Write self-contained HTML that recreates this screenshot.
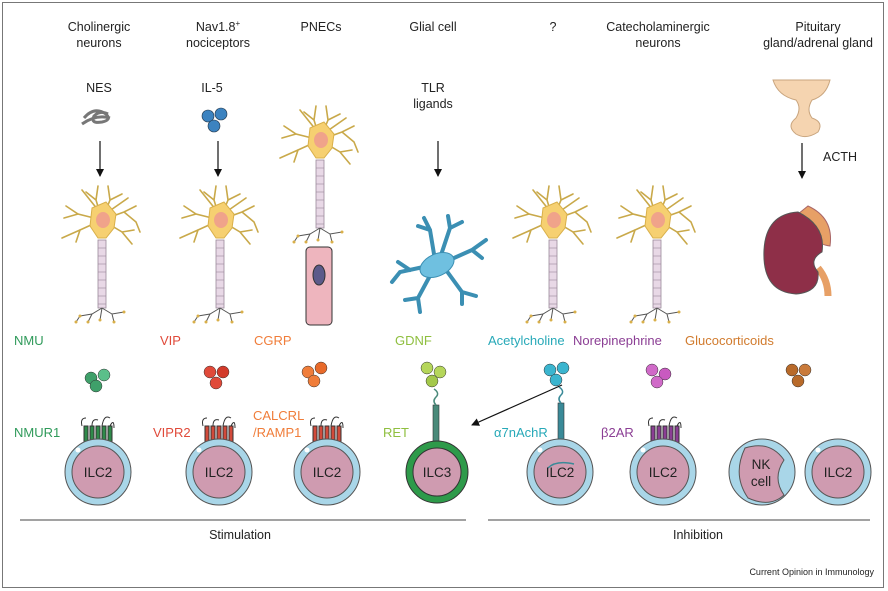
<!DOCTYPE html>
<html><head><meta charset="utf-8"><style>
html,body{margin:0;padding:0;background:#fff;}
svg{display:block;font-family:"Liberation Sans",Arial,sans-serif;}
</style></head><body>
<svg width="888" height="591" viewBox="0 0 888 591" xmlns="http://www.w3.org/2000/svg">
<defs>
<g id="neuron">
  <g stroke="#c9a94a" stroke-width="1.6" fill="none" stroke-linecap="round">
    <path d="M0 0 L-6 -20 L-4 -34 M-6 -20 L-16 -28"/>
    <path d="M0 0 L8 -20 L6 -34 M8 -20 L20 -26"/>
    <path d="M0 0 L22 -8 L34 -14 M22 -8 L34 2 L38 12"/>
    <path d="M0 0 L-24 -6 L-36 -14 M-24 -6 L-38 -2"/>
    <path d="M0 0 L-22 10 L-40 18 M-22 10 L-26 22"/>
    <path d="M0 0 L20 12 L30 24 M20 12 L32 10"/>
    <path d="M-4 -10 L-20 -30 M6 -8 L26 -22"/>
  </g>
  <path d="M-10 -12 L4 -18 L14 -6 L12 8 L4 18 L-4 18 L-12 6 Z" fill="#f6d071" stroke="#d9b04a" stroke-width="1"/>
  <ellipse cx="1" cy="0" rx="7" ry="8" fill="#f0a38a"/>
  <rect x="-4" y="20" width="8" height="68" fill="#e8d8e6" stroke="#9a8a9a" stroke-width="0.8"/>
  <g stroke="#9a8a9a" stroke-width="0.6">
    <line x1="-4" y1="28" x2="4" y2="28"/><line x1="-4" y1="36" x2="4" y2="36"/><line x1="-4" y1="44" x2="4" y2="44"/>
    <line x1="-4" y1="52" x2="4" y2="52"/><line x1="-4" y1="60" x2="4" y2="60"/><line x1="-4" y1="68" x2="4" y2="68"/>
    <line x1="-4" y1="76" x2="4" y2="76"/><line x1="-4" y1="84" x2="4" y2="84"/>
  </g>
  <g stroke="#555" stroke-width="1" fill="none">
    <path d="M0 88 L-10 94 L-22 96 M-10 94 L-14 102 M0 88 L-2 100 M0 88 L10 94 L22 92 M10 94 L12 102 M-22 96 L-26 102"/>
  </g>
  <g fill="#d9b04a"><circle cx="-22" cy="96" r="1.5"/><circle cx="22" cy="92" r="1.5"/><circle cx="-14" cy="102" r="1.5"/><circle cx="12" cy="102" r="1.5"/><circle cx="-2" cy="100" r="1.5"/><circle cx="-26" cy="102" r="1.5"/></g>
</g>
<g id="cell">
  <circle r="33" fill="#a9d6e8" stroke="#555" stroke-width="1"/>
  <circle r="26" fill="#cf9bb0" stroke="#555" stroke-width="1"/>
  <circle cx="-20" cy="-22" r="2.5" fill="#fff"/>
</g>
<g id="gpcr">
  <g stroke="#333" stroke-width="1">
    <rect x="-14" y="-14" width="4" height="18"/><rect x="-8" y="-14" width="4" height="18"/><rect x="-2" y="-14" width="4" height="18"/>
    <rect x="4" y="-14" width="4" height="18"/><rect x="10" y="-14" width="4" height="18"/>
  </g>
  <path d="M-16 -14 q-2 -8 4 -8 M-6 -14 q0 -8 6 -6 M4 -14 q2 -12 8 -8 M12 -14 q4 -8 4 2" stroke="#333" fill="none"/>
</g>
<marker id="ah" markerWidth="8" markerHeight="8" refX="7" refY="4" orient="auto" markerUnits="userSpaceOnUse"><path d="M0 0 L8 4 L0 8 Z" fill="#111"/></marker>
</defs>

<rect x="2.5" y="2.5" width="881" height="585" fill="#fff" stroke="#777" stroke-width="1"/>

<g font-size="12.5" fill="#222" text-anchor="middle">
  <text x="99" y="31">Cholinergic</text><text x="99" y="47">neurons</text>
  <text x="218" y="31">Nav1.8<tspan font-size="8" dy="-5">+</tspan></text><text x="218" y="47">nociceptors</text>
  <text x="321" y="31">PNECs</text>
  <text x="433" y="31">Glial cell</text>
  <text x="553" y="31">?</text>
  <text x="658" y="31">Catecholaminergic</text><text x="658" y="47">neurons</text>
  <text x="818" y="31">Pituitary</text><text x="818" y="47">gland/adrenal gland</text>
  <text x="99" y="92">NES</text>
  <text x="212" y="92">IL-5</text>
  <text x="433" y="92">TLR</text><text x="433" y="108">ligands</text>
  <text x="840" y="161">ACTH</text>
</g>

<!-- NES worm -->
<path d="M84 118 q10 -12 22 -4 q6 6 -4 8 q-12 2 -8 -6 q6 -6 14 -2 M82 124 q14 -10 28 -6" stroke="#777" stroke-width="3" fill="none"/>
<!-- IL5 balls -->
<g stroke="#234" stroke-width="0.6"><circle cx="208" cy="116" r="6" fill="#3c83c0"/><circle cx="221" cy="114" r="6" fill="#3c83c0"/><circle cx="214" cy="126" r="6" fill="#3c83c0"/></g>

<g stroke="#111" stroke-width="1.2" marker-end="url(#ah)">
  <line x1="100" y1="141" x2="100" y2="176"/>
  <line x1="218" y1="141" x2="218" y2="176"/>
  <line x1="438" y1="141" x2="438" y2="176"/>
  <line x1="802" y1="143" x2="802" y2="178"/>
  <line x1="562" y1="385" x2="472" y2="425"/>
</g>

<use href="#neuron" x="102" y="220"/>
<use href="#neuron" x="220" y="220"/>
<use href="#neuron" x="320" y="140"/>
<use href="#neuron" x="553" y="220"/>
<use href="#neuron" x="657" y="220"/>

<!-- PNEC cell -->
<rect x="306" y="247" width="26" height="78" rx="4" fill="#eeb5be" stroke="#333"/>
<ellipse cx="319" cy="275" rx="6" ry="10" fill="#5c5a8a" stroke="#333"/>

<!-- glial -->
<g stroke="#3b8fb3" stroke-width="4" fill="none" stroke-linecap="round">
  <path d="M435 260 L430 230 L424 218 M430 230 L418 226"/>
  <path d="M440 258 L450 228 L448 216 M450 228 L462 222"/>
  <path d="M445 262 L472 250 L486 240 M472 250 L482 258"/>
  <path d="M428 266 L400 272 L392 282 M410 270 L398 262"/>
  <path d="M432 272 L418 298 L420 312 M418 298 L405 300"/>
  <path d="M446 270 L462 292 L462 304 M462 292 L476 296"/>
</g>
<ellipse cx="437" cy="265" rx="18" ry="11" transform="rotate(-25 437 265)" fill="#6fc0e0" stroke="#3b8fb3"/>

<!-- pituitary -->
<path d="M773 80 L830 80 Q826 96 812 100 Q806 110 812 118 Q824 122 818 132 Q806 140 796 134 Q786 126 796 118 Q802 108 796 100 Q778 96 773 80 Z" fill="#f5d4b0" stroke="#c9a57e"/>
<!-- kidney -->
<path d="M808 206 Q834 218 830 246 Q810 244 798 214 Z" fill="#e7a066" stroke="#a66"/>
<path d="M818 268 Q828 280 828 296" stroke="#e7a066" stroke-width="7" fill="none"/>
<path d="M798 212 Q766 214 764 250 Q762 292 796 294 Q820 292 818 272 Q808 260 822 252 Q826 226 798 212 Z" fill="#8e2f48" stroke="#555"/>

<!-- molecule labels -->
<g font-size="13">
  <text x="14" y="345" fill="#2f9a5a">NMU</text>
  <text x="160" y="345" fill="#e04a3a">VIP</text>
  <text x="254" y="345" fill="#f07d3a">CGRP</text>
  <text x="395" y="345" fill="#8fbf3f">GDNF</text>
  <text x="488" y="345" fill="#27a9b8">Acetylcholine</text>
  <text x="573" y="345" fill="#8b3e94">Norepinephrine</text>
  <text x="685" y="345" fill="#d17b2e">Glucocorticoids</text>
</g>
<!-- balls -->
<g stroke="#333" stroke-width="0.5">
  <circle cx="91" cy="378" r="6" fill="#3fa06a"/><circle cx="104" cy="375" r="6" fill="#5bbf8a"/><circle cx="96" cy="386" r="6" fill="#3fa06a"/>
  <circle cx="210" cy="372" r="6" fill="#e04a3a"/><circle cx="223" cy="372" r="6" fill="#d23a2a"/><circle cx="216" cy="383" r="6" fill="#e04a3a"/>
  <circle cx="308" cy="372" r="6" fill="#f07d3a"/><circle cx="321" cy="368" r="6" fill="#e86a2a"/><circle cx="314" cy="381" r="6" fill="#f07d3a"/>
  <circle cx="427" cy="368" r="6" fill="#b5d65a"/><circle cx="440" cy="372" r="6" fill="#b5d65a"/><circle cx="432" cy="381" r="6" fill="#a3c84a"/>
  <circle cx="550" cy="370" r="6" fill="#3bb5cf"/><circle cx="563" cy="368" r="6" fill="#3bb5cf"/><circle cx="556" cy="380" r="6" fill="#3bb5cf"/>
  <circle cx="652" cy="370" r="6" fill="#d06ac8"/><circle cx="665" cy="374" r="6" fill="#c95ac0"/><circle cx="657" cy="382" r="6" fill="#d06ac8"/>
  <circle cx="792" cy="370" r="6" fill="#b86a2a"/><circle cx="805" cy="370" r="6" fill="#c97a3a"/><circle cx="798" cy="381" r="6" fill="#b86a2a"/>
</g>

<!-- receptors -->
<g fill="#2f8a4a"><use href="#gpcr" x="98" y="440"/></g>
<g fill="#d24a3a"><use href="#gpcr" x="219" y="440"/></g>
<g fill="#d24a3a"><use href="#gpcr" x="327" y="440"/></g>
<g fill="#8b3e94"><use href="#gpcr" x="665" y="440"/></g>
<rect x="433" y="405" width="6" height="38" fill="#4a8a7a" stroke="#333" stroke-width="0.6"/>
<path d="M436 405 q-4 -4 0 -8 q4 -4 -2 -8" stroke="#4a8a7a" stroke-width="1.5" fill="none"/>
<rect x="558" y="403" width="6" height="40" fill="#3a8a98" stroke="#333" stroke-width="0.6"/>
<path d="M561 403 q-4 -4 0 -8 q4 -4 -2 -8" stroke="#3a8a98" stroke-width="1.5" fill="none"/>

<!-- cells -->
<use href="#cell" x="98" y="472"/>
<use href="#cell" x="219" y="472"/>
<use href="#cell" x="327" y="472"/>
<circle cx="437" cy="472" r="31" fill="#2e9a4a" stroke="#333"/>
<circle cx="437" cy="472" r="24" fill="#cf9bb0" stroke="#333"/>
<use href="#cell" x="560" y="472"/>
<use href="#cell" x="663" y="472"/>
<circle cx="762" cy="472" r="33" fill="#a9d6e8" stroke="#555"/>
<path d="M745 448 Q770 440 784 460 Q772 478 784 495 Q770 508 748 498 Q732 475 745 448 Z" fill="#cf9bb0" stroke="#555"/>
<use href="#cell" x="838" y="472"/>
<path d="M548 468 q8 -8 26 -4" stroke="#3a8a98" stroke-width="1.5" fill="none"/>

<g font-size="13.5" fill="#222" text-anchor="middle">
  <text x="98" y="477">ILC2</text><text x="219" y="477">ILC2</text><text x="327" y="477">ILC2</text>
  <text x="437" y="477">ILC3</text><text x="560" y="477">ILC2</text><text x="663" y="477">ILC2</text>
  <text x="761" y="469">NK</text><text x="761" y="486">cell</text><text x="838" y="477">ILC2</text>
</g>
<g font-size="13">
  <text x="14" y="437" fill="#2f9a5a">NMUR1</text>
  <text x="153" y="437" fill="#e04a3a">VIPR2</text>
  <text x="253" y="420" fill="#f07d3a">CALCRL</text>
  <text x="253" y="437" fill="#f07d3a">/RAMP1</text>
  <text x="383" y="437" fill="#8fbf3f">RET</text>
  <text x="494" y="437" fill="#27a9b8">α7nAchR</text>
  <text x="601" y="437" fill="#8b3e94">β2AR</text>
</g>

<line x1="20" y1="520" x2="466" y2="520" stroke="#444" stroke-width="1"/>
<line x1="488" y1="520" x2="870" y2="520" stroke="#444" stroke-width="1"/>
<text x="240" y="539" font-size="12.5" text-anchor="middle" fill="#222">Stimulation</text>
<text x="698" y="539" font-size="12.5" text-anchor="middle" fill="#222">Inhibition</text>
<text x="874" y="575" font-size="9" text-anchor="end" fill="#222">Current Opinion in Immunology</text>
</svg>
</body></html>
